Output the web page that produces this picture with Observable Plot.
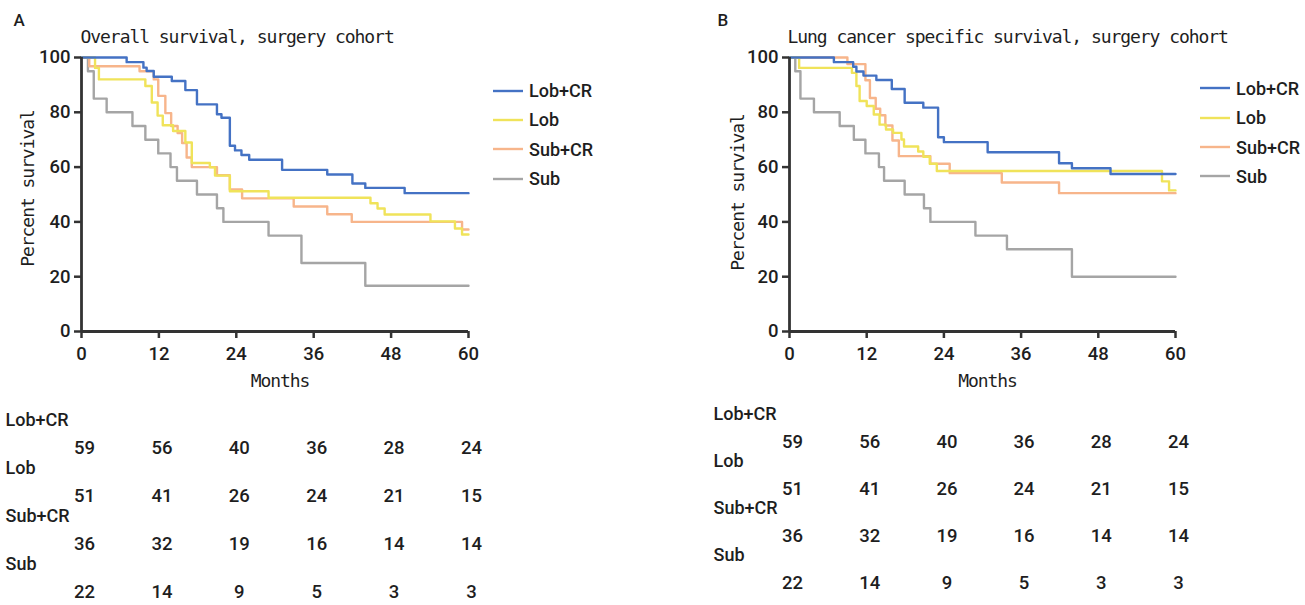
<!DOCTYPE html>
<html>
<head>
<meta charset="utf-8">
<script src="https://cdn.jsdelivr.net/npm/d3@7"></script>
<script src="https://cdn.jsdelivr.net/npm/@observablehq/plot@0.6"></script>
<style>
  html, body { margin: 0; padding: 0; background: #fff; }
  #root { position: relative; width: 1305px; height: 605px; background: #fff; overflow: hidden; }
  #root > svg { position: absolute; overflow: visible; }
  #root g[font-family*="Mono"] text { letter-spacing: -1.05px; }
  .leg { position: absolute; display: flex; align-items: center; height: 24px; color: #1e1e1e;
         font-family: Roboto, "Noto Sans", sans-serif; font-size: 18px; font-weight: 500; white-space: nowrap; }
  .leg svg { position: static; margin-right: 6px; }
</style>
</head>
<body>
<div id="root"></div>
<script>
// ---------- data ----------
const groups = ["Lob+CR", "Lob", "Sub+CR", "Sub"];
const colors = ["#4472c4", "#f0e35a", "#f7b58b", "#a5a5a5"];
const monthTicks = [0, 12, 24, 36, 48, 60];
const pctTicks = [0, 20, 40, 60, 80, 100];

// Panel A: overall survival  [month, percent surviving]
const osLobCR = [[0,100],[7.0,98.3],[9.6,96.3],[10.1,95.1],[11.2,93.0],[14.0,91.4],[16.1,88.1],[17.9,82.9],[21.0,79.3],[21.7,78.0],[23.0,67.8],[23.8,66.1],[24.8,64.4],[26.0,62.7],[31.1,59.0],[38.1,57.3],[42.0,54.0],[44.0,52.4],[50.1,50.5],[60,50.5]];
const osLob = [[0,100],[2.1,96.2],[2.7,92.0],[9.9,89.6],[10.9,83.6],[11.8,78.8],[12.6,75.3],[14.2,73.2],[16.1,69.0],[17.1,61.5],[19.9,59.9],[20.7,56.9],[23.0,51.2],[29.0,48.8],[44.8,46.8],[45.9,44.9],[47.0,42.7],[54.1,40.2],[57.9,37.6],[59.0,35.4],[60,35.4]];
const osSubCR = [[0,100],[1.2,96.8],[9.0,95.0],[11.2,92.0],[11.9,86.0],[13.0,79.7],[13.9,75.0],[14.9,72.4],[15.6,68.8],[16.3,63.5],[17.1,60.0],[21.0,57.0],[23.0,51.8],[24.9,48.6],[32.9,45.6],[38.1,42.8],[41.9,40.0],[59.0,37.2],[60,37.2]];
const osSub = [[0,100],[1.0,95],[1.9,85],[3.9,80],[7.9,75],[9.9,70],[11.9,65],[13.8,60],[14.8,55],[17.9,50],[21.0,45],[22.0,40],[29.0,35],[34.1,25],[44.0,16.7],[60,16.7]];

// Panel B: lung cancer specific survival
const lcLobCR = [[0,100],[6.9,98.3],[9.9,96.6],[10.4,94.9],[11.5,93.4],[13.5,91.8],[15.9,88.5],[17.9,83.5],[20.8,81.7],[23.1,70.9],[24.0,69.1],[30.8,65.4],[41.9,61.4],[43.9,59.6],[49.9,57.5],[60,57.5]];
const lcLob = [[0,100],[1.5,96.2],[9.7,94.4],[10.4,89.6],[10.9,84.1],[12.0,82.3],[13.1,79.2],[14.0,75.5],[15.0,73.7],[16.1,72.5],[17.4,70.1],[17.8,67.5],[20.0,65.7],[20.8,63.8],[21.8,61.2],[22.9,58.6],[57.9,54.8],[59.0,51.5],[60,51.5]];
const lcSubCR = [[0,100],[9.0,97.6],[11.8,91.7],[12.5,85.2],[13.4,81.3],[14.1,78.9],[14.9,75.2],[16.0,69.7],[17.0,64.0],[21.9,61.2],[24.9,57.8],[33.0,54.4],[41.9,50.5],[60,50.5]];
const lcSub = [[0,100],[0.9,95],[1.7,85],[3.8,80],[7.8,75],[10.0,70],[11.8,65],[13.9,60],[14.7,55],[17.9,50],[20.9,45],[21.9,40],[28.9,35],[33.8,30],[43.9,20],[60,20]];

// Numbers at risk
const riskTimes = [0, 12, 24, 36, 48, 60];
const riskLobCR = [59, 56, 40, 36, 28, 24];
const riskLob = [51, 41, 26, 24, 21, 15];
const riskSubCR = [36, 32, 19, 16, 14, 14];
const riskSub = [22, 14, 9, 5, 3, 3];

// ---------- drawing ----------
const sans = 'Roboto,"Noto Sans",sans-serif';
const mono = '"DejaVu Sans Mono","Liberation Mono",monospace';
const ink = "#1e1e1e";
const axisInk = "#333";
const root = document.getElementById("root");

function curveRows(series) {
  const rows = [];
  for (const g of ["Sub", "Sub+CR", "Lob", "Lob+CR"]) {
    for (const [t, s] of series[g]) rows.push({group: g, t, s});
  }
  return rows;
}

function riskRows() {
  const sets = {"Lob+CR": riskLobCR, "Lob": riskLob, "Sub+CR": riskSubCR, "Sub": riskSub};
  const rows = [];
  for (const g of groups) sets[g].forEach((n, i) => rows.push({group: g, t: riskTimes[i], n}));
  return rows;
}

function panel(cfg) {
  const main = Plot.plot({
    width: 480, height: 395,
    marginLeft: 81, marginRight: cfg.marginRight, marginTop: 57, marginBottom: 64,
    style: {fontFamily: sans, fontSize: "18.5px", color: ink, background: "transparent", overflow: "visible"},
    x: {domain: [0, 60], axis: null},
    y: {domain: [0, 100], axis: null},
    color: {domain: groups, range: colors},
    marks: [
      Plot.line(curveRows(cfg.series), {x: "t", y: "s", z: "group", stroke: "group", curve: "step-after", strokeWidth: 2.4}),
      Plot.ruleX([0], {stroke: axisInk, strokeWidth: 2.8}),
      Plot.ruleY([0], {stroke: axisInk, strokeWidth: 2.8}),
      Plot.axisY({ticks: pctTicks, tickSize: 7, tickPadding: 4, stroke: axisInk, strokeWidth: 2.5, fill: ink, fontSize: 18.5, fontWeight: 500, fontFamily: sans, label: null}),
      Plot.axisX({ticks: monthTicks, tickSize: 7, tickPadding: 8, stroke: axisInk, strokeWidth: 2.5, fill: ink, fontSize: 18.5, fontWeight: 500, fontFamily: sans, label: null}),
      Plot.text([cfg.letter], {text: d => d, frameAnchor: "top-left", textAnchor: "start", lineAnchor: "middle", dx: cfg.letterDx, dy: -37, fontFamily: sans, fontSize: 17, fontWeight: 500, fill: ink}),
      Plot.text([cfg.title], {text: d => d, frameAnchor: "top-left", textAnchor: "start", lineAnchor: "middle", dx: cfg.titleDx, dy: -20, fontFamily: mono, fontSize: 18, fill: ink}),
      Plot.text(["Percent survival"], {text: d => d, frameAnchor: "left", rotate: -90, textAnchor: "middle", lineAnchor: "middle", dx: cfg.ylabDx, dy: cfg.ylabDy, fontFamily: mono, fontSize: 18, fill: ink}),
      Plot.text(["Months"], {text: d => d, frameAnchor: "bottom", textAnchor: "middle", lineAnchor: "middle", dx: 5, dy: 50, fontFamily: mono, fontSize: 18, fill: ink})
    ]
  });
  main.style.left = cfg.left + "px";
  main.style.top = "0px";
  root.appendChild(main);

  const table = Plot.plot({
    width: 480, height: 210,
    marginLeft: 81, marginRight: cfg.marginRight, marginTop: 0, marginBottom: 0,
    style: {fontFamily: sans, fontSize: "18.5px", color: ink, background: "transparent", overflow: "visible"},
    x: {domain: [0, 60], axis: null},
    y: {type: "point", domain: groups, range: cfg.tableRange, padding: 0, axis: null},
    marks: [
      Plot.text(riskRows(), {x: "t", y: "group", text: d => String(d.n), dx: 3, fontFamily: sans, fontSize: 18.5, fontWeight: 500, fill: ink}),
      Plot.text(groups, {y: d => d, text: d => d, frameAnchor: "left", textAnchor: "start", dx: -76, dy: -28.5, fontFamily: sans, fontSize: 18, fontWeight: 500, fill: ink})
    ]
  });
  table.style.left = cfg.left + "px";
  table.style.top = "395px";
  root.appendChild(table);

  groups.forEach((g, i) => {
    const row = document.createElement("div");
    row.className = "leg";
    row.style.left = cfg.legLeft + "px";
    row.style.top = (cfg.legTop + i * 29.3 - 12) + "px";
    const sw = document.createElementNS("http://www.w3.org/2000/svg", "svg");
    sw.setAttribute("width", 30); sw.setAttribute("height", 6);
    const ln = document.createElementNS("http://www.w3.org/2000/svg", "line");
    ln.setAttribute("x1", 0); ln.setAttribute("x2", 30); ln.setAttribute("y1", 3); ln.setAttribute("y2", 3);
    ln.setAttribute("stroke", colors[i]); ln.setAttribute("stroke-width", 2.4);
    sw.appendChild(ln);
    row.appendChild(sw);
    const tx = document.createElement("span");
    tx.textContent = g;
    row.appendChild(tx);
    root.appendChild(row);
  });
}

panel({
  left: 0, marginRight: 12, letter: "A", letterDx: -68, titleDx: -1,
  title: "Overall survival, surgery cohort", ylabDx: -53, ylabDy: -6,
  series: {"Lob+CR": osLobCR, "Lob": osLob, "Sub+CR": osSubCR, "Sub": osSub},
  tableRange: [52, 197], legLeft: 493, legTop: 90.6
});
panel({
  left: 708, marginRight: 13, letter: "B", letterDx: -72, titleDx: -2,
  title: "Lung cancer specific survival, surgery cohort", ylabDx: -51, ylabDy: -2,
  series: {"Lob+CR": lcLobCR, "Lob": lcLob, "Sub+CR": lcSubCR, "Sub": lcSub},
  tableRange: [47, 188.5], legLeft: 1200, legTop: 88.4
});
</script>
</body>
</html>
